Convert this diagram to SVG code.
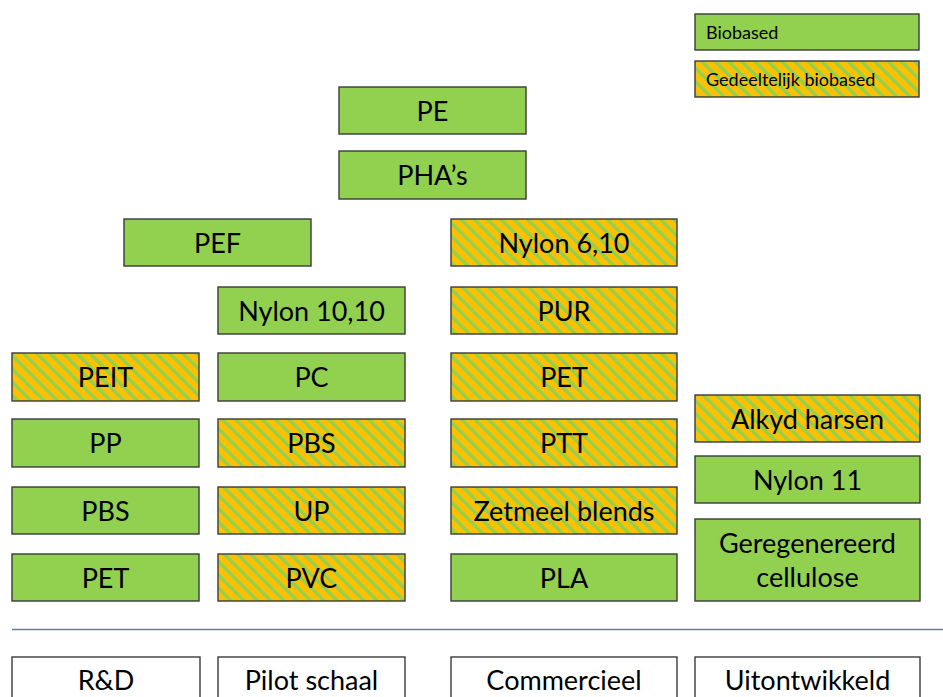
<svg xmlns="http://www.w3.org/2000/svg" width="943" height="697" viewBox="0 0 943 697">
<defs>
<pattern id="stripes" patternUnits="userSpaceOnUse" width="9.4" height="9.4" patternTransform="rotate(-45)">
<rect x="0" y="0" width="9.4" height="9.4" fill="#ffc000"/>
<rect x="0" y="0" width="3.4" height="9.4" fill="#92d050"/>
</pattern>
</defs>
<style>
.g{fill:#92d050;stroke:#3a3a3a;stroke-width:1.4}
.s{fill:url(#stripes);stroke:#3a3a3a;stroke-width:1.4}
.w{fill:#ffffff;stroke:#3a3a3a;stroke-width:1.4}
text{font-family:Lato,"Liberation Sans",sans-serif;font-size:27px;fill:#000;text-anchor:middle}
text.l{font-size:18px;text-anchor:start}
</style>
<rect width="943" height="697" fill="#ffffff"/>
<g id="legend-biobased"><rect class="g" x="695" y="14" width="224" height="36"/><text class="l" x="706" y="39">Biobased</text></g>
<g id="legend-gedeeltelijk"><rect class="s" x="695" y="61" width="224" height="36"/><text class="l" x="706" y="86">Gedeeltelijk biobased</text></g>

<g id="n-pe"><rect class="g" x="339" y="87" width="187" height="47"/><text x="432.5" y="121">PE</text></g>
<g id="n-phas"><rect class="g" x="339" y="151" width="187" height="48"/><text x="432.5" y="185">PHA’s</text></g>
<g id="n-pef"><rect class="g" x="124" y="219" width="187" height="47"/><text x="217.5" y="253">PEF</text></g>
<g id="n-nylon610"><rect class="s" x="451" y="219" width="226" height="47"/><text x="564" y="253">Nylon 6,10</text></g>
<g id="n-nylon1010"><rect class="g" x="218" y="287" width="187" height="47"/><text x="311.5" y="321">Nylon 10,10</text></g>
<g id="n-pur"><rect class="s" x="451" y="287" width="226" height="47"/><text x="564" y="321">PUR</text></g>

<g id="n-peit"><rect class="s" x="12" y="353" width="187" height="48"/><text x="105.5" y="387">PEIT</text></g>
<g id="n-pc"><rect class="g" x="218" y="353" width="187" height="48"/><text x="311.5" y="387">PC</text></g>
<g id="n-pet-c"><rect class="s" x="451" y="353" width="226" height="48"/><text x="564" y="387">PET</text></g>

<g id="n-pp"><rect class="g" x="12" y="419" width="187" height="48"/><text x="105.5" y="453">PP</text></g>
<g id="n-pbs-p"><rect class="s" x="218" y="419" width="187" height="48"/><text x="311.5" y="453">PBS</text></g>
<g id="n-ptt"><rect class="s" x="451" y="419" width="226" height="48"/><text x="564" y="453">PTT</text></g>

<g id="n-pbs-r"><rect class="g" x="12" y="487" width="187" height="47"/><text x="105.5" y="521">PBS</text></g>
<g id="n-up"><rect class="s" x="218" y="487" width="187" height="47"/><text x="311.5" y="521">UP</text></g>
<g id="n-zetmeel"><rect class="s" x="451" y="487" width="226" height="47"/><text x="564" y="521">Zetmeel blends</text></g>

<g id="n-pet-r"><rect class="g" x="12" y="554" width="187" height="47"/><text x="105.5" y="588">PET</text></g>
<g id="n-pvc"><rect class="s" x="218" y="554" width="187" height="47"/><text x="311.5" y="588">PVC</text></g>
<g id="n-pla"><rect class="g" x="451" y="554" width="226" height="47"/><text x="564" y="588">PLA</text></g>

<g id="n-alkyd"><rect class="s" x="695" y="395" width="225" height="47"/><text x="807.5" y="429">Alkyd harsen</text></g>
<g id="n-nylon11"><rect class="g" x="695" y="456" width="225" height="47"/><text x="807.5" y="490">Nylon 11</text></g>
<g id="n-cellulose"><rect class="g" x="695" y="519" width="225" height="82"/><text x="807.5" y="553">Geregenereerd</text><text x="807.5" y="587">cellulose</text></g>

<g id="connectors"><line x1="12" y1="629.5" x2="943" y2="629.5" stroke="#4f81bd" stroke-width="1.4"/></g>

<g id="s-rd"><rect class="w" x="12" y="657" width="188" height="60"/><text x="106" y="690">R&amp;D</text></g>
<g id="s-pilot"><rect class="w" x="218" y="657" width="187" height="60"/><text x="311.5" y="690">Pilot schaal</text></g>
<g id="s-commercieel"><rect class="w" x="451" y="657" width="226" height="60"/><text x="564" y="690">Commercieel</text></g>
<g id="s-uitontwikkeld"><rect class="w" x="695" y="657" width="225" height="60"/><text x="807.5" y="690">Uitontwikkeld</text></g>
</svg>
